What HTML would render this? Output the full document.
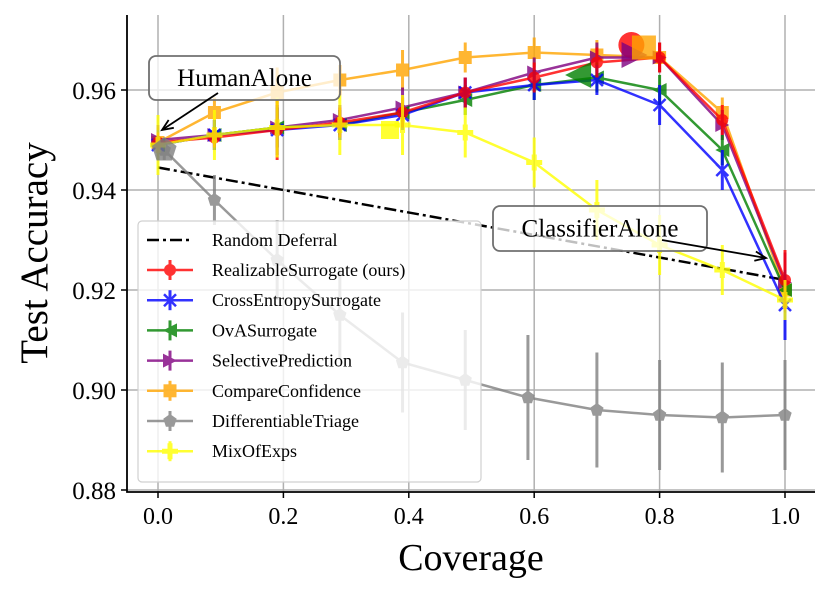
<!DOCTYPE html>
<html><head><meta charset="utf-8"><style>
html,body{margin:0;padding:0;background:#fff;}
svg{display:block;}
svg text{font-family:"Liberation Serif",serif;}
</style></head><body>
<svg id="chart" width="830" height="591" viewBox="0 0 830 591" xmlns="http://www.w3.org/2000/svg">
<g id="grid"></g>
<g id="series"></g>
<g id="axes"></g>
<g id="legend"></g>
<g id="annot"></g>
</svg>
<script>
const xTicks=[0.0,0.2,0.4,0.6,0.8,1.0];
const xTickLabels=["0.0","0.2","0.4","0.6","0.8","1.0"];
const yTicks=[0.88,0.90,0.92,0.94,0.96];
const yTickLabels=["0.88","0.90","0.92","0.94","0.96"];
const coverage=[0,0.09,0.19,0.29,0.39,0.49,0.6,0.7,0.8,0.9,1.0];
const realizable=[0.9495,0.9505,0.952,0.9535,0.9555,0.9595,0.9625,0.9655,0.9665,0.954,0.922];
const realizableErr=[0.002,0.002,0.006,0.003,0.003,0.003,0.003,0.003,0.003,0.003,0.006];
const crossEntropy=[0.949,0.951,0.952,0.953,0.955,0.9595,0.961,0.962,0.957,0.944,0.917];
const crossEntropyErr=[0.003,0.003,0.005,0.003,0.003,0.003,0.003,0.003,0.004,0.004,0.007];
const ova=[0.949,0.951,0.9525,0.953,0.9555,0.958,0.961,0.9625,0.960,0.948,0.920];
const ovaErr=[0.003,0.003,0.004,0.003,0.003,0.003,0.003,0.003,0.003,0.003,0.004];
const selective=[0.950,0.951,0.9525,0.954,0.9565,0.9595,0.9635,0.9665,0.9665,0.953,0.9215];
const selectiveErr=[0.003,0.003,0.004,0.003,0.004,0.003,0.003,0.003,0.003,0.003,0.006];
const compare=[0.9495,0.9555,0.9595,0.962,0.964,0.9665,0.9675,0.967,0.9665,0.9555,0.920];
const compareErr=[0.003,0.003,0.005,0.003,0.004,0.003,0.003,0.003,0.003,0.003,0.004];
const triageX=[0.01,0.09,0.19,0.29,0.39,0.49,0.59,0.7,0.8,0.9,1.0];
const triage=[0.948,0.938,0.926,0.915,0.9055,0.902,0.8985,0.896,0.895,0.8945,0.895];
const triageErr=[0.002,0.005,0.008,0.009,0.010,0.010,0.0125,0.0115,0.011,0.011,0.011];
const mixX=[0,0.09,0.19,0.29,0.39,0.49,0.6,0.7,0.8,0.9,1.0];
const mix=[0.949,0.951,0.9525,0.953,0.953,0.9515,0.9455,0.936,0.929,0.924,0.918];
const mixErr=[0.006,0.005,0.006,0.006,0.006,0.005,0.005,0.006,0.006,0.005,0.004];
const randomX=[0,1];
const randomY=[0.9445,0.922];
const bigX=[0.755,0.67,0.76,0.775,0.37];
const bigY=[0.969,0.963,0.967,0.9685,0.952];

const NS="http://www.w3.org/2000/svg";
const X0=127,X1=815,Y0=15,Y1=492;
function sx(v){return 158+(v-0)*627;}
function sy(v){return 90+(0.96-v)*5000;}
function mk(tag,attrs,parent){const e=document.createElementNS(NS,tag);for(const k in attrs)e.setAttribute(k,attrs[k]);if(parent)parent.appendChild(e);return e;}
const grid=document.getElementById('grid'),axes=document.getElementById('axes'),ser=document.getElementById('series'),leg=document.getElementById('legend'),ann=document.getElementById('annot');

xTicks.forEach((t,i)=>{
  const l=mk('line',{x1:sx(t),x2:sx(t),y1:Y0,y2:Y1,stroke:'#b0b0b0','stroke-width':1.5},grid);
  
  const tk=mk('line',{x1:sx(t),x2:sx(t),y1:Y1,y2:Y1+6,stroke:'#000','stroke-width':1.5},axes);
  
  const tx=mk('text',{x:sx(t),y:Y1+32,'font-size':24,'text-anchor':'middle'},axes);tx.textContent=xTickLabels[i];
  
});
yTicks.forEach((t,i)=>{
  const l=mk('line',{x1:X0,x2:X1,y1:sy(t),y2:sy(t),stroke:'#b0b0b0','stroke-width':1.5},grid);
  
  const tk=mk('line',{x1:X0-6,x2:X0,y1:sy(t),y2:sy(t),stroke:'#000','stroke-width':1.5},axes);
  
  const tx=mk('text',{x:X0-11,y:sy(t)+9,'font-size':25,'text-anchor':'end'},axes);tx.textContent=yTickLabels[i];
  
});
let a=mk('path',{d:`M${X0} ${Y0} V${Y1} H${X1}`,fill:'none',stroke:'#000','stroke-width':1.8},axes);

let xl=mk('text',{x:471,y:570,'font-size':38,'text-anchor':'middle'},axes);xl.textContent='Coverage';

let yl=mk('text',{x:0,y:0,'font-size':39,'text-anchor':'middle',transform:'translate(47,253) rotate(-90)'},axes);yl.textContent='Test Accuracy';


function marker(type,x,y,c,s,g){
  let e;
  if(type==='o')e=mk('circle',{cx:x,cy:y,r:s,fill:c},g);
  else if(type==='x'){e=mk('path',{d:`M${x-s} ${y-s}L${x+s} ${y+s}M${x-s} ${y+s}L${x+s} ${y-s}`,stroke:c,'stroke-width':2.5},g);}
  else if(type==='<')e=mk('polygon',{points:`${x-s},${y} ${x+s},${y-s} ${x+s},${y+s}`,fill:c},g);
  else if(type==='>')e=mk('polygon',{points:`${x+s},${y} ${x-s},${y-s} ${x-s},${y+s}`,fill:c},g);
  else if(type==='s')e=mk('rect',{x:x-s,y:y-s,width:2*s,height:2*s,fill:c},g);
  else if(type==='p'){let p=[];for(let k=0;k<5;k++){const an=-Math.PI/2+k*2*Math.PI/5;p.push((x+s*Math.cos(an)).toFixed(1)+','+(y+s*Math.sin(an)).toFixed(1));}e=mk('polygon',{points:p.join(' '),fill:c},g);}
  else if(type==='+'){e=mk('path',{d:`M${x-s} ${y}H${x+s}M${x} ${y-s}V${y+s}`,stroke:c,'stroke-width':5},g);}
  return e;
}

const defs=[
 {name:'differentiable-triage',label:'DifferentiableTriage',xs:triageX,ys:triage,err:triageErr,c:'#808080',m:'p',s:7},
 {name:'compare-confidence',label:'CompareConfidence',xs:coverage,ys:compare,err:compareErr,c:'#ffa500',m:'s',s:6.5},
 {name:'selective-prediction',label:'SelectivePrediction',xs:coverage,ys:selective,err:selectiveErr,c:'#800080',m:'>',s:7},
 {name:'ova-surrogate',label:'OvASurrogate',xs:coverage,ys:ova,err:ovaErr,c:'#008000',m:'<',s:7},
 {name:'cross-entropy-surrogate',label:'CrossEntropySurrogate',xs:coverage,ys:crossEntropy,err:crossEntropyErr,c:'#0000ff',m:'x',s:6},
 {name:'realizable-surrogate',label:'RealizableSurrogate (ours)',xs:coverage,ys:realizable,err:realizableErr,c:'#ff0000',m:'o',s:6},
 {name:'mix-of-exps',label:'MixOfExps',xs:mixX,ys:mix,err:mixErr,c:'#ffff00',m:'+',s:8},
];
let rd=mk('line',{x1:sx(randomX[0]),y1:sy(randomY[0]),x2:sx(randomX[1]),y2:sy(randomY[1]),stroke:'#000','stroke-width':2.5,'stroke-dasharray':'12 4 3 4'},ser);


defs.forEach(d=>{
  const g=mk('g',{opacity:0.8},ser);
  
  d.xs.forEach((x,i)=>{const b=mk('line',{x1:sx(x),x2:sx(x),y1:sy(d.ys[i]-d.err[i]),y2:sy(d.ys[i]+d.err[i]),stroke:d.c,'stroke-width':3},g);
    });
  const pl=mk('polyline',{points:d.xs.map((x,i)=>sx(x)+','+sy(d.ys[i])).join(' '),fill:'none',stroke:d.c,'stroke-width':2.5},g);
  
  d.xs.forEach((x,i)=>{const e=marker(d.m,sx(x),sy(d.ys[i]),d.c,d.s,g);
    });
});
const bigDefs=[['o','#ff0000',13],['<','#008000',13],['>','#800080',13],['s','#ffa500',12],['s','#ffff00',9]];
bigX.forEach((x,i)=>{const b=bigDefs[i];const g=mk('g',{opacity:0.8},ser);
  const e=marker(b[0],sx(x),sy(bigY[i]),b[1],b[2],g);
  });
let gb=marker('p',sx(0.01),sy(0.948),'#808080',13,ser);gb.setAttribute('opacity',0.8);


let lb=mk('rect',{x:138,y:221,width:343,height:261,rx:4,fill:'#fff','fill-opacity':0.8,stroke:'#d0d0d0','stroke-width':1.2},leg);

const legOrder=['realizable-surrogate','cross-entropy-surrogate','ova-surrogate','selective-prediction','compare-confidence','differentiable-triage','mix-of-exps'];
function legEntry(y,label,name){const g=mk('g',{},leg);
  const t=mk('text',{x:212,y:y+6,'font-size':18},g);t.textContent=label;return g;}
let g0=legEntry(240,'Random Deferral','random-deferral');
mk('line',{x1:147,x2:193,y1:240,y2:240,stroke:'#000','stroke-width':2.5,'stroke-dasharray':'12 4 3 4'},g0);
legOrder.forEach((n,i)=>{const d=defs.find(q=>q.name===n);const y=270+i*30.2;const g=legEntry(y,d.label,n);
  const gg=mk('g',{opacity:0.8},g);
  mk('line',{x1:147,x2:193,y1:y,y2:y,stroke:d.c,'stroke-width':2.5},gg);
  mk('line',{x1:170,x2:170,y1:y-10,y2:y+10,stroke:d.c,'stroke-width':3},gg);
  marker(d.m,170,y,d.c,d.s,gg);});

function annot(x,y,w,h,txt,ax1,ay1,ax2,ay2,name){
  const g=mk('g',{},ann);
  mk('rect',{x:x,y:y,width:w,height:h,rx:7,fill:'#fff','fill-opacity':0.75,stroke:'#707070','stroke-width':1.8},g);
  const t=mk('text',{x:x+w/2,y:y+h/2+8,'font-size':25,'text-anchor':'middle'},g);t.textContent=txt;
  mk('line',{x1:ax1,y1:ay1,x2:ax2,y2:ay2,stroke:'#000','stroke-width':1.8},g);
  const ang=Math.atan2(ay2-ay1,ax2-ax1),L=12,W=0.4;
  mk('path',{d:`M${ax2-L*Math.cos(ang-W)} ${ay2-L*Math.sin(ang-W)}L${ax2} ${ay2}L${ax2-L*Math.cos(ang+W)} ${ay2-L*Math.sin(ang+W)}`,fill:'none',stroke:'#000','stroke-width':1.8},g);
}
annot(149,56,191,44,'HumanAlone',218,93,162,130,'human-alone-annotation');
annot(493,206,214,45,'ClassifierAlone',662,240,766,258,'classifier-alone-annotation');
</script>
</body></html>
